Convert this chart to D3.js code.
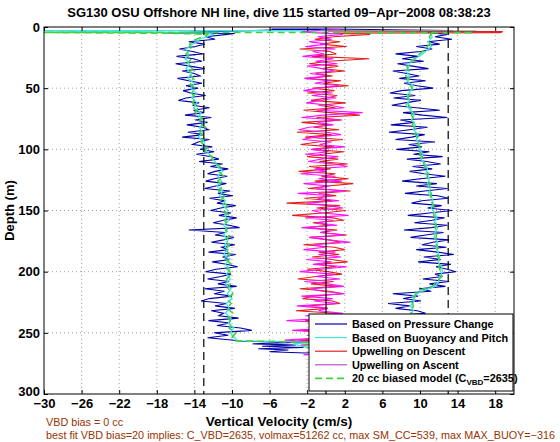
<!DOCTYPE html>
<html><head><meta charset="utf-8">
<script src="https://cdn.jsdelivr.net/npm/d3@7/dist/d3.min.js"></script>
<style>body{margin:0;background:#fff} svg{display:block} text{font-family:"Liberation Sans",Arial,Helvetica,sans-serif}</style>
</head><body><svg id="c" width="560" height="442"></svg>
<script>
// ---------- data ----------
const titleText = "SG130 OSU Offshore NH line, dive 115 started 09\u2212Apr\u22122008 08:38:23";
const xTicks = [-30,-26,-22,-18,-14,-10,-6,-2,2,6,10,14,18];
const yTicks = [0,50,100,150,200,250,300];
const legendLabels = ["Based on Pressure Change","Based on Buoyancy and Pitch","Upwelling on Descent","Upwelling on Ascent","20 cc biased model (C"];
const refLines = [-13, 13];   // dashed
const zeroLine = [0];         // solid

// descent, based on pressure change (depth 6..256 step 2)
const blueDescStart = 6, blueDescStep = 2;
const blueDescent = [
 -10.5,-12.8,-11.8,-14.6,-12.9,-13.9,-15.6,-14.2,-13.1,-15.9,
 -14.1,-13.2,-16.0,-14.5,-12.9,-15.3,-14.0,-13.4,-15.8,-14.6,
 -13.2,-14.9,-13.6,-15.2,-14.4,-12.8,-14.9,-15.7,-13.5,-14.2,
 -12.4,-14.1,-13.0,-15.0,-12.2,-13.9,-12.6,-14.8,-13.1,-12.5,
 -14.7,-13.0,-15.3,-12.4,-13.6,-14.2,-12.1,-13.4,-11.9,-13.8,
 -12.2,-11.4,-13.5,-11.0,-12.3,-10.4,-11.8,-12.6,-10.5,-11.9,
 -12.8,-10.6,-11.7,-12.9,-10.2,-11.5,-9.9,-12.4,-10.8,-11.6,
 -9.6,-11.2,-12.3,-10.1,-11.4,-9.5,-10.9,-12.0,-10.3,-9.2,
 -14.6,-10.7,-11.8,-9.8,-10.9,-12.2,-9.7,-11.1,-10.4,-12.5,
 -9.6,-11.0,-10.2,-12.1,-10.6,-9.4,-11.7,-12.8,-10.1,-11.2,
 -12.6,-10.3,-11.5,-9.5,-12.9,-10.8,-11.9,-10.0,-12.4,-13.3,
 -10.6,-11.8,-9.7,-12.2,-10.9,-11.4,-9.3,-12.5,-10.2,-11.6,
 -9.1,-7.9,-11.9,-10.4,-12.6,-9.8];
const blueHead = [[2,0.3],[2.5,-5.8],[4.8,-17],[5.3,-9.7]];
const blueBottom = [[257,-9],[257.6,-2.5],[259,-7.8],[260,-3.2],[261,-6.8],[262,-2.4],[263,-7.2],[264,-4.0],[265.5,-6.0],[266.5,-2.2]];
// ascent, based on pressure change (depth 4..262 step 2)
const blueAscStart = 4, blueAscStep = 2;
const blueAscent = [
 10.2,12.9,11.6,13.4,10.8,12.1,9.6,11.3,10.1,7.4,
 9.8,8.1,10.4,7.6,9.2,10.9,7.1,8.6,9.9,7.8,
 10.6,8.3,9.7,11.4,8.0,6.8,9.5,7.2,10.1,8.4,
 7.0,9.6,12.1,8.2,10.3,12.9,7.9,9.4,6.9,10.8,
 8.9,6.7,10.5,9.1,7.4,11.6,8.8,10.2,7.5,11.0,
 9.3,12.4,8.6,10.7,12.2,9.2,11.3,8.9,10.4,12.7,
 10.0,8.1,11.8,9.6,12.9,10.5,8.4,11.9,13.0,10.2,
 9.1,12.3,10.8,13.4,11.0,8.7,12.6,11.3,9.4,12.9,
 11.2,8.3,12.5,10.6,9.0,13.1,11.4,10.2,12.8,9.6,
 11.9,13.6,10.4,12.2,9.8,13.3,11.7,12.9,13.8,11.6,
 12.4,10.3,13.1,11.0,12.7,9.9,11.2,7.1,9.8,8.2,
 10.1,6.6,8.9,7.4,9.7,10.6,7.0,8.5,9.9,8.0,
 9.4,7.2,8.8,6.9,9.1,7.7,8.4,6.5,7.8,5.2];
const blueTail = [[3,13.5],[2.5,9],[1.6,0.3],[1.6,-5.8]];

// buoyancy and pitch (depth 6..254 step 4 descent, 4..260 step 4 ascent)
const cyanDescStart = 6, cyanAscStart = 4, smoothStep = 4;
const cyanDescent = [-12.0,-13.4,-14.2,-14.9,-14.6,-15.0,-14.5,-14.9,-14.3,-14.7,
 -14.0,-14.4,-13.8,-14.3,-13.7,-14.1,-13.3,-13.6,-12.9,-13.5,
 -13.1,-13.6,-12.9,-13.2,-12.6,-12.3,-11.8,-11.6,-11.0,-11.5,
 -11.1,-11.6,-11.0,-11.3,-10.7,-11.0,-10.4,-10.8,-10.3,-10.9,
 -10.5,-10.9,-10.4,-10.8,-10.5,-10.9,-10.3,-10.7,-10.2,-10.6,
 -10.2,-10.7,-10.1,-10.5,-10.0,-10.6,-10.3,-10.7,-10.1,-10.4,
 -9.8,-10.2,-9.7];
const cyanHead = [[3.1,16],[3.0,-32],[5,-12.5]];
const cyanBottom = [[256.5,-9.4],[257.5,-1],[259,-3.5],[262,-2]];
const cyanAscent = [11.0,11.3,10.9,11.2,10.6,9.9,9.0,8.8,8.5,8.9,
 8.6,9.3,9.0,8.6,8.9,8.5,9.0,9.4,9.1,9.5,
 9.3,9.8,9.6,10.0,9.9,10.3,10.1,10.6,10.8,10.6,
 11.0,10.8,11.1,10.9,11.3,11.4,11.2,11.6,11.8,11.5,
 11.9,11.6,11.5,11.9,11.7,11.9,12.1,11.9,12.3,12.4,
 12.1,12.0,11.6,10.2,9.2,9.4,9.0,9.3,8.9,9.2,
 8.8,9.0,8.6,8.2,7.5];

// 20 cc biased model
const greenDescent = [-12.5,-13.8,-14.5,-14.4,-14.9,-14.3,-14.8,-14.2,-14.6,-14.1,
 -14.5,-13.9,-14.3,-13.9,-14.2,-13.6,-13.9,-13.2,-13.5,-12.8,
 -13.4,-12.9,-13.3,-12.7,-12.9,-12.1,-12.0,-11.3,-11.4,-10.9,
 -11.5,-11.0,-11.4,-10.8,-11.2,-10.5,-10.9,-10.3,-10.8,-10.4,
 -10.7,-10.2,-10.8,-10.3,-10.7,-10.2,-10.6,-10.1,-10.5,-10.0,
 -10.6,-10.2,-10.4,-9.9,-10.5,-10.1,-10.5,-9.9,-10.4,-10.0,
 -10.3,-9.6,-10.0];
const greenHead = [[4.6,15.5],[4.4,-32],[5.2,-16]];
const greenBottom = [[256.5,-9.6],[258,-0.5],[261,-2.5],[264,-1]];
const greenAscent = [11.3,11.0,11.2,10.8,10.3,9.6,9.2,8.6,8.8,8.5,
 8.9,9.0,9.3,8.8,8.6,8.8,9.2,9.1,9.4,9.2,
 9.6,9.5,9.9,9.8,10.1,10.0,10.4,10.4,10.6,10.9,
 10.7,11.1,10.9,11.2,11.1,11.3,11.5,11.4,11.6,11.7,
 11.6,11.8,11.7,11.6,11.9,11.8,11.9,12.2,12.0,12.2,
 12.3,11.8,11.3,9.6,9.5,9.1,9.3,9.1,9.0,8.9,
 9.1,8.7,8.5,7.8,7.0];

// upwelling on descent (depth 6..264 step 2)
const redStart = 6, redStep = 2;
const redDescent = [
 4.7,0.8,-1.2,1.5,-0.6,2.2,-2.8,0.4,1.1,-1.5,
 4.6,0.2,-1.8,1.3,-0.4,2.0,-1.1,0.7,-2.2,1.6,
 -0.3,2.4,-1.4,0.9,-2.0,1.2,0.1,-1.6,2.1,-0.8,
 1.0,-2.4,0.5,3.6,-1.0,1.7,-2.6,0.3,-1.3,1.4,
 -3.1,0.6,-2.2,1.8,-0.9,-2.7,0.9,-1.5,1.9,-0.4,
 -2.0,1.3,-0.7,2.3,-1.8,0.5,-2.9,1.0,-0.5,2.4,
 -1.2,2.9,0.2,-1.9,2.6,-0.8,1.1,-2.3,0.7,-4.2,
 1.5,-1.0,2.1,-0.3,-3.6,0.8,1.9,-1.4,0.4,-2.1,
 1.2,-0.6,2.2,-1.7,0.3,1.6,-2.4,0.9,2.0,-0.8,
 1.4,-1.5,0.6,2.3,-0.9,1.1,-2.0,0.2,1.7,-1.1,
 -3.0,0.8,-1.6,1.3,-2.8,0.4,1.8,-1.3,-2.5,0.7,
 1.5,-1.9,0.2,-3.2,1.1,-0.7,2.0,-2.2,0.6,-1.4,
 1.2,-2.6,0.3,-1.0,1.7,-2.9,0.5,-1.2,1.0,-0.3];
const redHead = [[3.3,0.2],[3.8,18.8],[4.6,18.5],[5,0.8]];

// upwelling on ascent (depth 4..268 step 2)
const magStart = 4, magStep = 2;
const magentaAscent = [
 -2.6,1.8,-0.9,0.6,-1.8,0.2,-2.2,1.0,-1.4,-0.2,
 -2.5,0.8,-1.1,1.2,-2.0,-0.4,0.9,-1.7,0.3,-2.3,
 0.5,-1.2,1.4,-0.8,-2.4,0.7,-1.5,1.1,-0.6,-2.1,
 0.4,1.9,-1.0,3.9,-0.3,-2.6,1.5,-0.9,0.8,-1.8,
 -2.9,0.1,1.6,-1.3,-2.5,0.6,-0.7,2.0,-1.6,0.3,
 -2.2,1.3,-0.5,-1.9,0.9,2.3,-1.2,0.0,-2.7,1.0,
 -0.8,1.7,-2.4,0.4,-1.1,2.1,-3.0,0.6,-0.9,1.4,
 -2.0,0.2,1.8,-1.5,-0.3,2.4,-2.2,0.8,-1.0,1.2,
 -2.6,0.5,-0.6,1.9,-1.8,0.3,2.6,-1.3,-0.1,-2.4,
 1.0,-0.8,1.6,-2.1,0.6,-1.4,2.2,-0.5,-2.8,0.9,
 -1.1,1.5,-2.3,0.2,1.9,-1.6,-0.4,2.0,-2.6,0.7,
 -1.3,1.2,-3.1,0.1,-0.8,1.8,-2.2,0.5,-4.2,1.0,
 -1.6,0.4,-3.6,1.3,-2.0,-0.5,-4.4,0.8,-2.7,-0.2,
 -1.8,0.3,-2.4];
const magentaTail = [[2.5,-0.3],[2,1.5]];

const footer1 = "VBD bias = 0 cc";
const footer2 = "best fit VBD bias=20 implies: C_VBD=2635, volmax=51262 cc, max SM_CC=539, max MAX_BUOY=\u2212316";

// ---------- drawing ----------
const svg = d3.select("#c");
const L = 44, R = 514, T = 27, B = 394;
const x = d3.scaleLinear().domain([-30, 20]).range([L, R]);
const y = d3.scaleLinear().domain([0, 300]).range([T, B]);
const fmt = v => (v < 0 ? "\u2212" + Math.abs(v) : "" + v);
const grid = (vals, start, step) => vals.map((v, i) => [start + i * step, v]);
const line = d3.line().x(d => x(d[1])).y(d => y(d[0]));

svg.append("rect").attr("width", 560).attr("height", 442).attr("fill", "#fff");
svg.append("defs").append("clipPath").attr("id", "clip")
  .append("rect").attr("x", L).attr("y", T).attr("width", R - L).attr("height", B - T);

// grid
const g = svg.append("g");
g.selectAll(".gx").data(xTicks.slice(1)).join("line")
  .attr("x1", d => x(d)).attr("x2", d => x(d)).attr("y1", T).attr("y2", B)
  .attr("stroke", "#888").attr("stroke-width", 0.8).attr("stroke-dasharray", "1,3");
g.selectAll(".gy").data(yTicks.slice(1, -1)).join("line")
  .attr("x1", L).attr("x2", R).attr("y1", d => y(d)).attr("y2", d => y(d))
  .attr("stroke", "#888").attr("stroke-width", 0.8).attr("stroke-dasharray", "1,3");

const plot = svg.append("g").attr("clip-path", "url(#clip)");

const bluePts = blueHead.concat(grid(blueDescent, blueDescStart, blueDescStep), blueBottom,
  grid(blueAscent, blueAscStart, blueAscStep).reverse(), blueTail);
plot.append("path").attr("d", line(bluePts)).attr("fill", "none").attr("stroke", "#0000a8").attr("stroke-width", 1.1);

const cyanPts = cyanHead.concat(grid(cyanDescent, cyanDescStart, smoothStep), cyanBottom,
  grid(cyanAscent, cyanAscStart, smoothStep).reverse());
plot.append("path").attr("d", line(cyanPts)).attr("fill", "none").attr("stroke", "#3ee6e0").attr("stroke-width", 1.3);

const redPts = redHead.concat(grid(redDescent, redStart, redStep));
plot.append("path").attr("d", line(redPts)).attr("fill", "none").attr("stroke", "#e0201c").attr("stroke-width", 1.1);

const magPts = grid(magentaAscent, magStart, magStep).reverse().concat(magentaTail);
plot.append("path").attr("d", line(magPts)).attr("fill", "none").attr("stroke", "#ff10ff").attr("stroke-width", 1.1);

const greenPts = greenHead.concat(grid(greenDescent, cyanDescStart, smoothStep), greenBottom,
  grid(greenAscent, cyanAscStart, smoothStep).reverse());
plot.append("path").attr("d", line(greenPts)).attr("fill", "none").attr("stroke", "#44d044")
  .attr("stroke-width", 1.6).attr("stroke-dasharray", "7,4");

// reference lines
plot.selectAll(".rl").data(refLines).join("line")
  .attr("x1", d => x(d)).attr("x2", d => x(d)).attr("y1", T).attr("y2", B)
  .attr("stroke", "#000").attr("stroke-width", 1.2).attr("stroke-dasharray", "8,5");
plot.selectAll(".zl").data(zeroLine).join("line")
  .attr("x1", d => x(d)).attr("x2", d => x(d)).attr("y1", T).attr("y2", B)
  .attr("stroke", "#000").attr("stroke-width", 1.2);

// axes
const tickFont = sel => sel.selectAll("text").attr("font-size", 13).attr("font-weight", "bold").attr("fill", "#000")
  .attr("font-family", "Liberation Sans, Arial, sans-serif");
const axB = svg.append("g").attr("transform", `translate(0,${B})`)
  .call(d3.axisBottom(x).tickValues(xTicks).tickFormat(fmt).tickSize(-4).tickPadding(5));
const axT = svg.append("g").attr("transform", `translate(0,${T})`)
  .call(d3.axisTop(x).tickValues(xTicks).tickFormat("").tickSize(-4));
const axL = svg.append("g").attr("transform", `translate(${L},0)`)
  .call(d3.axisLeft(y).tickValues(yTicks).tickSize(-4).tickPadding(4));
const axR = svg.append("g").attr("transform", `translate(${R},0)`)
  .call(d3.axisRight(y).tickValues(yTicks).tickFormat("").tickSize(-4));
[axB, axT, axL, axR].forEach(a => { a.select(".domain").remove(); a.selectAll("line").attr("stroke", "#000"); tickFont(a); });
// lift the lowest depth label slightly so it does not collide with the first velocity label
axL.selectAll(".tick").filter(d => d === 300).select("text").attr("dy", "0.1em");
svg.append("rect").attr("x", L).attr("y", T).attr("width", R - L).attr("height", B - T)
  .attr("fill", "none").attr("stroke", "#000").attr("stroke-width", 1);

// legend
const lg = svg.append("g");
const lx = 309, ly = 314, lw = 204, lh = 77;
lg.append("rect").attr("x", lx).attr("y", ly).attr("width", lw).attr("height", lh)
  .attr("fill", "#fff").attr("stroke", "#000").attr("stroke-width", 1);
const legColors = ["#0000a8", "#3ee6e0", "#e0201c", "#c050d0", "#44d044"];
legendLabels.forEach((lab, i) => {
  const yy = ly + 10 + i * 13.6;
  lg.append("line").attr("x1", lx + 6).attr("x2", lx + 38).attr("y1", yy).attr("y2", yy)
    .attr("stroke", legColors[i]).attr("stroke-width", i === 4 ? 1.6 : 1.2)
    .attr("stroke-dasharray", i === 4 ? "7,4" : null);
  const t = lg.append("text").attr("x", lx + 43).attr("y", yy + 4)
    .attr("font-size", 10.9).attr("font-weight", "bold").text(lab);
  if (i === 4) {
    t.append("tspan").attr("font-size", 8).attr("dy", 3).text("VBD");
    t.append("tspan").attr("dy", -3).text("=2635)");
  }
});

// texts
svg.append("text").attr("x", 279).attr("y", 17).attr("text-anchor", "middle")
  .attr("font-size", 13).attr("font-weight", "bold").text(titleText);
svg.append("text").attr("transform", `translate(14,${(T + B) / 2}) rotate(-90)`).attr("text-anchor", "middle")
  .attr("font-size", 13).attr("font-weight", "bold").text("Depth (m)");
svg.append("text").attr("x", 279).attr("y", 426).attr("text-anchor", "middle")
  .attr("font-size", 13.5).attr("font-weight", "bold").text("Vertical Velocity (cm/s)");
svg.append("text").attr("x", 46).attr("y", 426).attr("font-size", 10.8).attr("fill", "#993300").text(footer1);
svg.append("text").attr("x", 46).attr("y", 439).attr("font-size", 10.8).attr("fill", "#993300").text(footer2);
</script></body></html>
